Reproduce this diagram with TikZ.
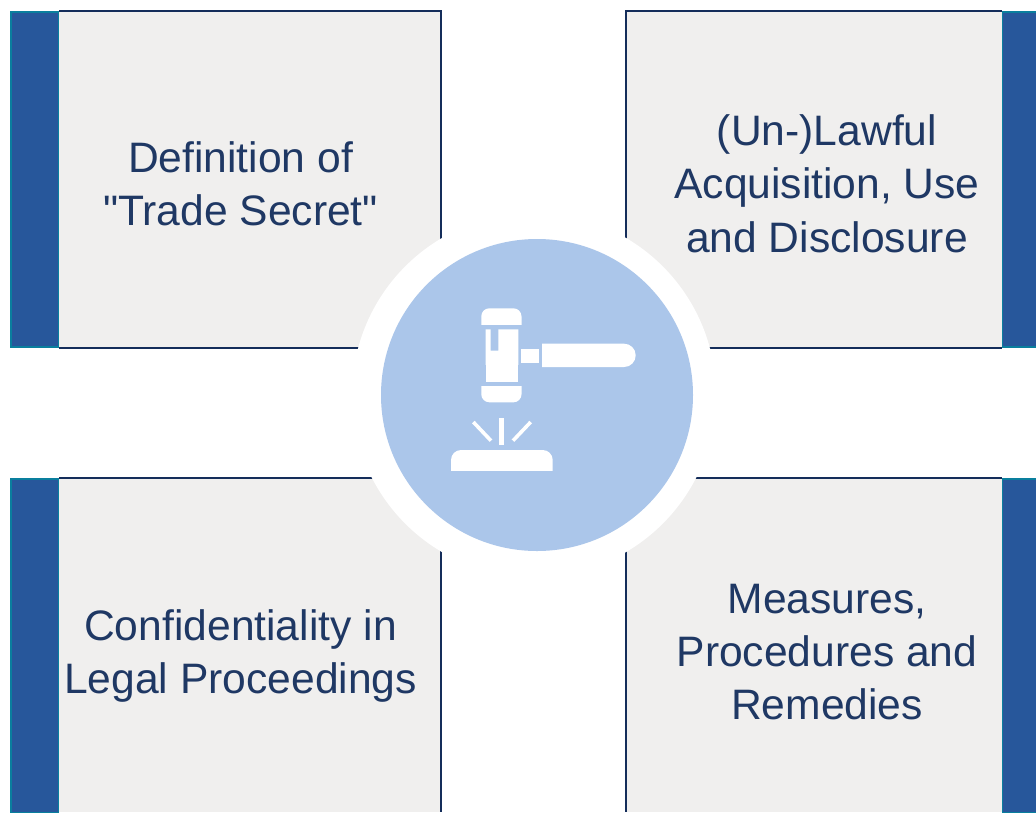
\documentclass[tikz,border=0pt]{standalone}
\usepackage{fontspec}
\newfontfamily\labfont{Liberation Sans}
\definecolor{boxfill}{HTML}{F0EFEE}
\definecolor{barblue}{HTML}{27579B}
\definecolor{barteal}{HTML}{0A7F9E}
\definecolor{navy}{HTML}{1F3864}
\definecolor{edgenavy}{HTML}{142D5A}
\definecolor{disc}{HTML}{ABC6EA}
\tikzset{
  panel/.style={fill=boxfill,draw=none},
  edge/.style={draw=edgenavy,line width=2.2pt},
  bar/.style={fill=barblue,draw=barteal,line width=1.5pt},
  label/.style={text=navy,align=center,font=\labfont\fontsize{42.6pt}{53.4pt}\selectfont,inner sep=0pt},
  icon/.style={fill=white,draw=none},
}
\begin{document}
\begin{tikzpicture}[x=1pt,y=-1pt]
\useasboundingbox (0,0) rectangle (1036,812);
% panels
\fill[panel] (10,11) rectangle (441,348);
\fill[panel] (626,11) rectangle (1036,348);
\fill[panel] (10,478) rectangle (441,812);
\fill[panel] (626,478) rectangle (1036,812);
% navy edges
\draw[edge] (59,11) -- (441,11) -- (441,348) -- (59,348);
\draw[edge] (1002,11) -- (626,11) -- (626,348) -- (1002,348);
\draw[edge] (59,478) -- (441,478) -- (441,812);
\draw[edge] (1002,478) -- (626,478) -- (626,812);
% bars
\draw[bar] (11,12) rectangle (58.5,347);
\draw[bar] (1002.5,12) rectangle (1037,347);
\draw[bar] (11,479) rectangle (58.5,813);
\draw[bar] (1002.5,479) rectangle (1037,813);
% centre
\fill[white] (534,395) circle (182);
\node[circle,fill=disc,minimum size=312pt,inner sep=0pt] (hub) at (537,395) {};
% gavel
\fill[icon,rounded corners=8pt] (481.3,340) -- (481.3,308.3) -- (521.5,308.3) -- (521.5,340) -- cycle;
\fill[disc] (480,325) rectangle (523,345);
\fill[icon] (485.7,329.3) -- (490.5,329.3) -- (490.5,350.7) -- (498.3,350.7) -- (498.3,329.3) -- (518.3,329.3) -- (518.3,381.7) -- (485.7,381.7) -- cycle;
\fill[icon,rounded corners=8pt] (481.3,370) -- (521.5,370) -- (521.5,402.3) -- (481.3,402.3) -- cycle;
\fill[disc] (480,365) rectangle (485.7,386.3);
\fill[disc] (518.3,365) rectangle (523,386.3);
\fill[disc] (485.7,381.7) rectangle (518.3,386.3);
\fill[icon,rounded corners=11.6pt] (530,343.7) rectangle (635.7,367);
\fill[disc] (528,342) rectangle (542,369);
\fill[icon] (521,349) rectangle (539,362.7);
\fill[icon,rounded corners=10pt] (451,480) -- (451,450) -- (552.7,450) -- (552.7,480) -- cycle;
\fill[disc] (450,470.7) rectangle (554,482);
\fill[icon] (499,418) rectangle (504,445);
\draw[white,line width=3.6pt] (473.3,422) -- (491,440.7);
\draw[white,line width=3.6pt] (530.7,422) -- (513,440.7);
% labels
\node[label] (a) at (240.5,183.5) {Definition of\\"Trade Secret"};
\node[label] (b) at (827,183.5) {(Un-)Lawful\\Acquisition, Use\\and Disclosure};
\node[label] (c) at (240.5,652) [yshift=-4pt] {Confidentiality in\\Legal Proceedings};
\node[label] (d) at (827,652) {Measures,\\Procedures and\\Remedies};
\end{tikzpicture}
\end{document}
